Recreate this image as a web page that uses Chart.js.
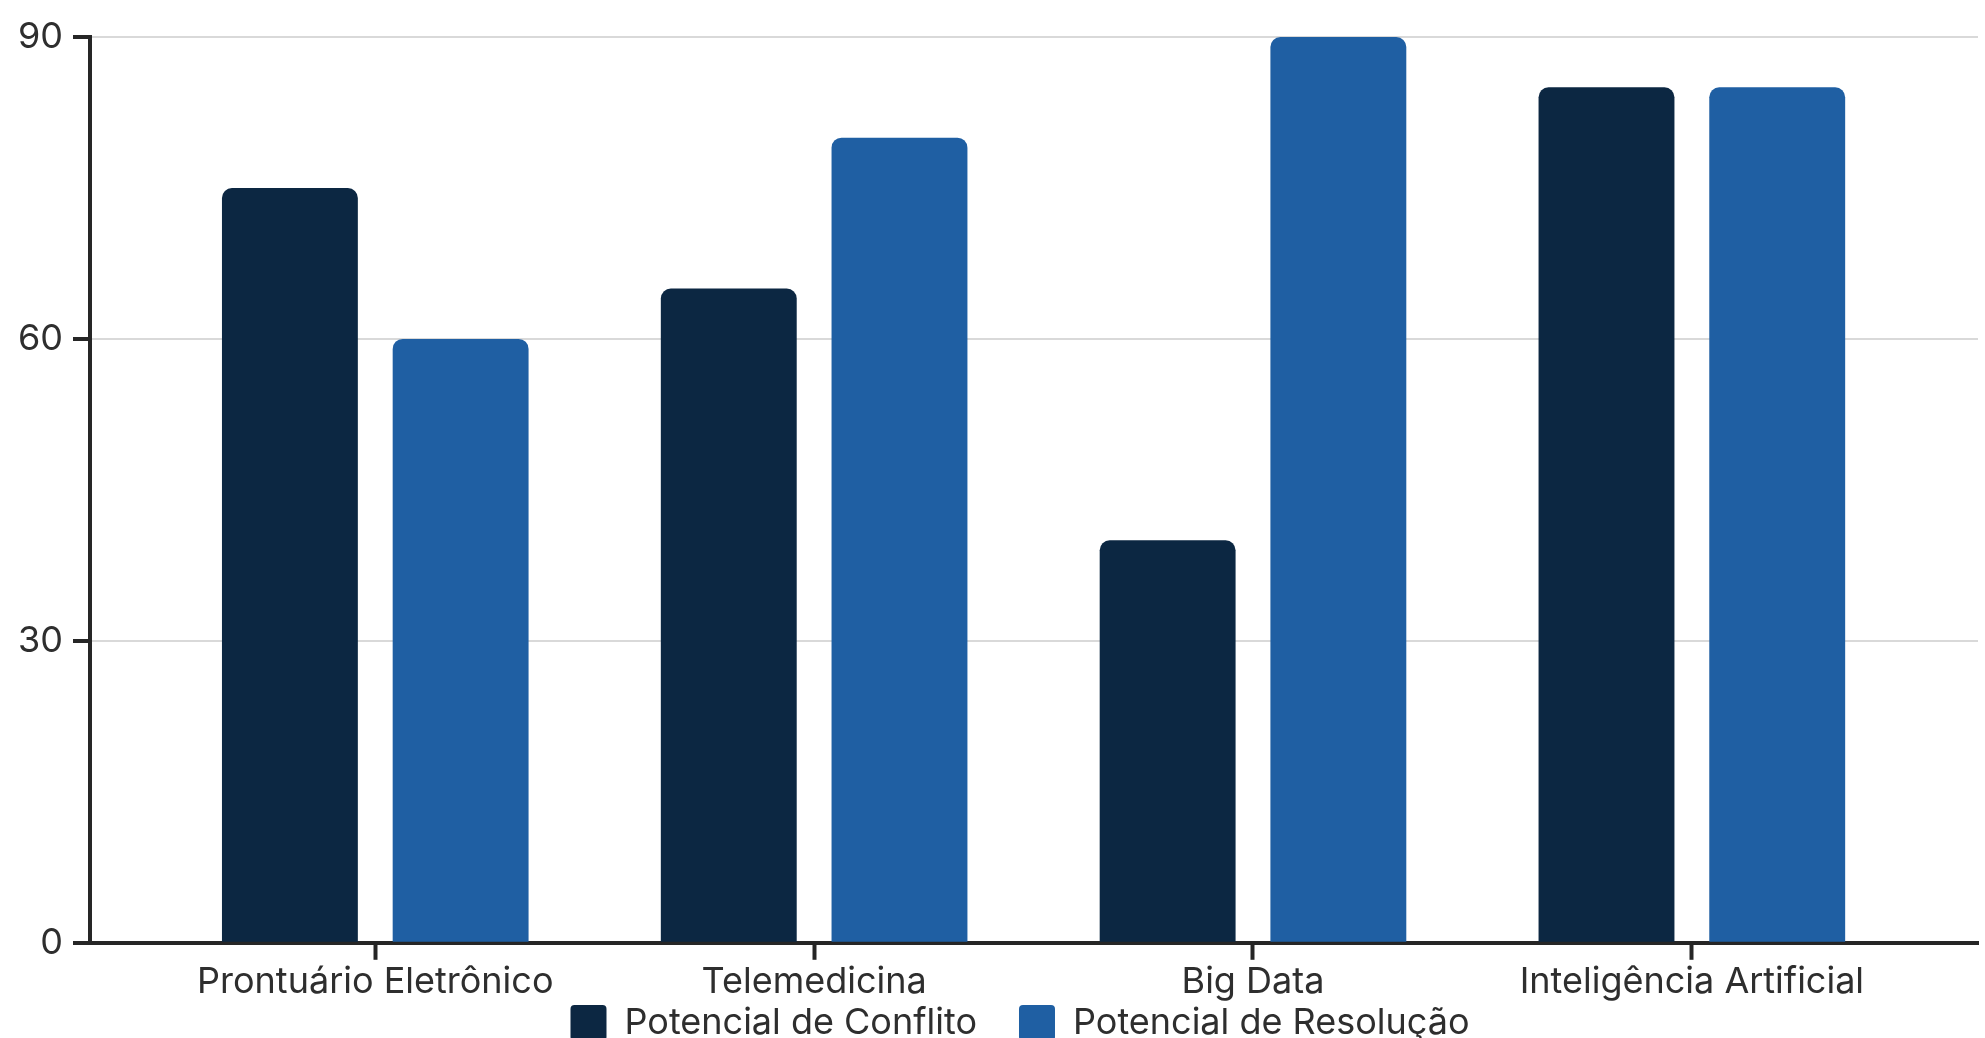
<!DOCTYPE html>
<html lang="pt-BR">
<head>
<meta charset="utf-8">
<title>Potencial de Conflito x Potencial de Resolução</title>
<script src="https://cdn.jsdelivr.net/npm/chart.js@4.4.1/dist/chart.umd.min.js"></script>
<style>
    html, body { margin: 0; padding: 0; background: #ffffff; overflow: hidden; }
    #wrap { position: relative; width: 1985px; height: 1093px; }
</style>
</head>
<body>
<div id="wrap"><canvas id="chart"></canvas></div>
<script>
// ─── Data ────────────────────────────────────────────────────────────────────
const CATEGORIES = ["Prontuário Eletrônico", "Telemedicina", "Big Data", "Inteligência Artificial"];
const SERIES_NAMES = ["Potencial de Conflito", "Potencial de Resolução"];
const CONFLITO = [75, 65, 40, 85];
const RESOLUCAO = [60, 80, 90, 85];
const Y_TICKS = [0, 30, 60, 90];

// ─── Style ───────────────────────────────────────────────────────────────────
const DARK = "#0c2742";
const BLUE = "#1f5fa3";
const AXIS = "#262626";
const TEXT = "#2e2e2e";
const GRID = "#d9d9d9";
const LEGEND_GAP = 0;   // space between the x labels and the legend row
const LEGEND_DX = 31;   // legend is centred a little right of the canvas centre

Chart.defaults.font.family = "Inter, 'Noto Sans', sans-serif";
Chart.defaults.font.size = 36;
Chart.defaults.color = TEXT;

// x is a numeric index axis so the outer padding around the groups can match
const toPoints = (arr) => arr.map((v, i) => ({ x: i, y: v }));

// Keep the wide horizontal spacing of the legend, but tuck it under the labels.
const legendPlace = {
    id: "legendPlace",
    afterLayout(chart) {
        const lg = chart.legend;
        if (!lg) return;
        const h = lg.bottom - lg.top;
        lg.top = chart.scales.x.bottom + LEGEND_GAP - lg.options.labels.padding;
        lg.bottom = lg.top + h;
        lg.left += LEGEND_DX;
        lg.right += LEGEND_DX;
    },
};

new Chart(document.getElementById("chart"), {
    type: "bar",
    data: {
        datasets: [
            {
                label: SERIES_NAMES[0],
                data: toPoints(CONFLITO),
                backgroundColor: DARK,
                borderRadius: 10,
            },
            {
                label: SERIES_NAMES[1],
                data: toPoints(RESOLUCAO),
                backgroundColor: BLUE,
                borderRadius: 10,
            },
        ],
    },
    options: {
        responsive: true,
        maintainAspectRatio: false,
        animation: false,
        categoryPercentage: 0.778,
        barPercentage: 0.796,
        layout: { padding: { top: 37, right: 7, bottom: 0, left: 0 } },
        plugins: {
            legend: {
                position: "bottom",
                labels: {
                    boxWidth: 36,
                    boxHeight: 36,
                    padding: 42,
                    useBorderRadius: true,
                    borderRadius: 4,
                    color: TEXT,
                    font: { size: 36 },
                },
            },
            tooltip: { enabled: false },
        },
        scales: {
            x: {
                type: "linear",
                min: -0.65,
                max: 3.652,
                offset: false,
                z: 1,
                afterBuildTicks: (scale) => {
                    scale.ticks = CATEGORIES.map((_, i) => ({ value: i }));
                },
                ticks: {
                    padding: 1,
                    color: TEXT,
                    font: { size: 36, lineHeight: 1.2 },
                    maxRotation: 0,
                    autoSkip: false,
                    callback: (v) => CATEGORIES[v] ?? "",
                },
                grid: {
                    offset: false,
                    drawOnChartArea: false,
                    drawTicks: true,
                    tickLength: 17,
                    tickWidth: 4,
                    tickColor: AXIS,
                },
                border: { color: AXIS, width: 4 },
            },
            y: {
                min: 0,
                max: 90,
                afterBuildTicks: (scale) => {
                    scale.ticks = Y_TICKS.map((v) => ({ value: v }));
                },
                afterFit: (scale) => { scale.width = 90; },
                ticks: {
                    padding: 10,
                    color: TEXT,
                    font: { size: 36 },
                },
                grid: {
                    color: GRID,
                    lineWidth: 2,
                    drawTicks: true,
                    tickLength: 17,
                    tickWidth: 4,
                    tickColor: AXIS,
                },
                border: { color: AXIS, width: 4 },
            },
        },
    },
    plugins: [legendPlace],
});
</script>
</body>
</html>
